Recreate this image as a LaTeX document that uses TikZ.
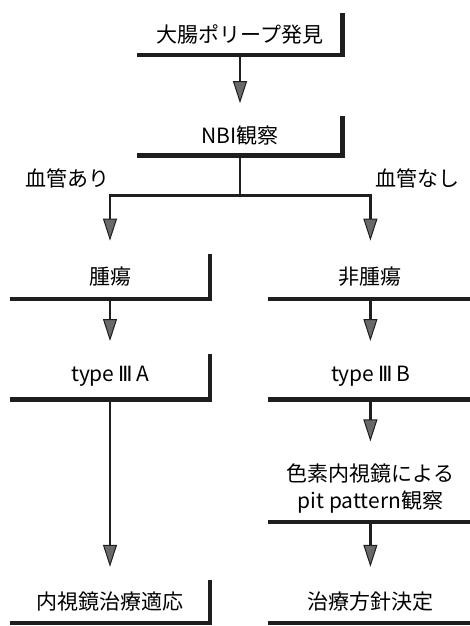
\documentclass[tikz,border=0pt]{standalone}
\usepackage{fontspec}
\setmainfont{Noto Sans CJK JP}
\newfontfamily\numfont{DejaVu Sans}
\usetikzlibrary{arrows.meta,positioning}
\definecolor{inkgray}{RGB}{30,30,30}
\definecolor{tipgray}{RGB}{105,105,105}
\newcommand{\romthree}{\,{\numfont Ⅲ}\,}

\begin{document}
\begin{tikzpicture}[x=1pt,y=-1pt,font=\fontsize{21}{27}\selectfont,
    box/.style={inner sep=0pt,minimum height=45pt,align=center},
    lbox/.style={box,minimum width=200pt},
    rbox/.style={box,minimum width=204pt},
    frame/.style={draw=inkgray,line width=4.5pt},
    link/.style={draw=inkgray,line width=2.8pt},
    arr/.style={link,shorten >=13pt,-{Triangle[length=22pt,width=14pt,fill=tipgray,line width=1pt]}},
    branch/.style={inner sep=0pt}]
  \useasboundingbox (0,0) rectangle (470,626);
  \clip (0,0) rectangle (470,626);
  \node[box,minimum width=205pt,minimum height=42pt] (polyp) at (240,34) {大腸ポリープ発見};
  \node[box,minimum width=205pt,minimum height=39pt,below=61pt of polyp] (nbi) {NBI観察};
  \node[lbox,below=98pt of nbi,xshift=-130pt] (tumor) {腫瘍};
  \node[rbox,right=58pt of tumor] (nontumor) {非腫瘍};
  \node[lbox,below=55pt of tumor] (typeA) {type\romthree A};
  \node[rbox,below=55pt of nontumor] (typeB) {type\romthree B};
  \node[rbox,minimum height=67pt,below=55pt of typeB] (pit) {色素内視鏡による\\pit pattern観察};
  \node[rbox,minimum height=43pt,below=58pt of pit] (treatB) {治療方針決定};
  \node[lbox,minimum height=43pt,left=58pt of treatB] (treatA) {内視鏡治療適応};
  \foreach \n in {polyp,nbi,tumor,nontumor,typeA,typeB,pit,treatA,treatB}
    \draw[frame] (\n.south west) -- (\n.south east) -- (\n.north east);
  \coordinate[below=40pt of nbi] (split);
  \coordinate (lcorner) at (split -| tumor);
  \coordinate (rcorner) at (split -| nontumor);
  \draw[arr] (polyp) -- (nbi);
  \draw[link] (nbi) -- (split);
  \draw[arr] (split) -| (tumor);
  \draw[arr] (split) -| (nontumor);
  \node[branch,above left=7pt and 0pt of lcorner] (yes) {血管あり};
  \node[branch,above right=7pt and 5pt of rcorner] (no) {血管なし};
  \draw[arr] (tumor) -- (typeA);
  \draw[arr] (nontumor) -- (typeB);
  \draw[arr] (typeB) -- (pit);
  \draw[arr] (pit) -- (treatB);
  \draw[arr] (typeA) -- (treatA);
\end{tikzpicture}
\end{document}
